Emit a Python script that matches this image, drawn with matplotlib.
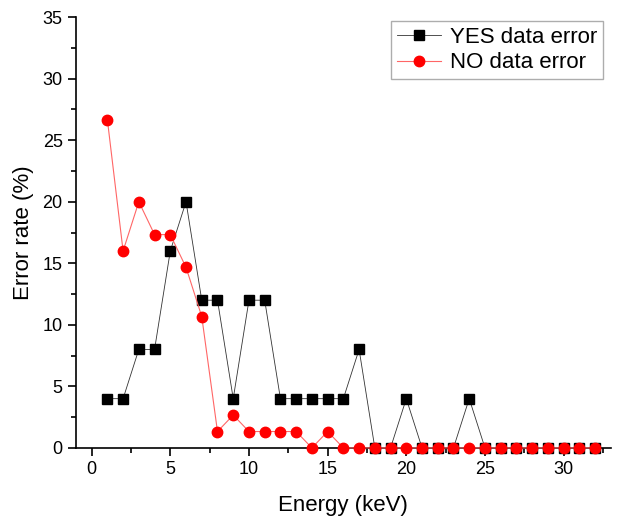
import numpy as np
import matplotlib
matplotlib.use("Agg")
import matplotlib.pyplot as plt
from matplotlib.ticker import MultipleLocator

plt.rcParams['font.family'] = ['Liberation Sans', 'DejaVu Sans']

energy = list(range(1, 33))
yes_error = [4, 4, 8, 8, 16, 20, 12, 12, 4, 12, 12, 4, 4, 4, 4, 4,
             8, 0, 0, 4, 0, 0, 0, 4, 0, 0, 0, 0, 0, 0, 0, 0]
no_error = [26.67, 16, 20, 17.33, 17.33, 14.67, 10.67, 1.33, 2.67, 1.33, 1.33,
            1.33, 1.33, 0, 1.33, 0, 0, 0, 0, 0, 0, 0, 0, 0, 0, 0, 0, 0, 0, 0, 0, 0]

fig = plt.figure(figsize=(6.17, 5.19), dpi=100)
ax = fig.add_axes([0.123, 0.137, 0.867, 0.830])

ax.plot(energy, yes_error, color='#333333', lw=0.6, marker='s', ms=7,
        mfc='black', mec='black', label='YES data error', clip_on=False, zorder=3)
ax.plot(energy, no_error, color='#ff6666', lw=0.8, marker='o', ms=7.5,
        mfc='red', mec='red', label='NO data error', clip_on=False, zorder=4)

ax.set_xlim(-1, 33)
ax.set_ylim(0, 35)
ax.xaxis.set_major_locator(MultipleLocator(5))
ax.xaxis.set_minor_locator(MultipleLocator(2.5))
ax.yaxis.set_major_locator(MultipleLocator(5))
ax.yaxis.set_minor_locator(MultipleLocator(2.5))

for side in ('top', 'right'):
    ax.spines[side].set_visible(False)
for side in ('left', 'bottom'):
    ax.spines[side].set_linewidth(1.2)

ax.tick_params(which='major', direction='out', length=6, width=1.2, labelsize=13)
ax.tick_params(which='minor', direction='out', length=3.5, width=1.2)

ax.set_xlabel('Energy (keV)', fontsize=16, labelpad=12)
ax.set_ylabel('Error rate (%)', fontsize=16, labelpad=6)

leg = ax.legend(loc='upper right', bbox_to_anchor=(0.985, 0.99), fontsize=16,
                frameon=True, fancybox=False, edgecolor='#999999',
                handlelength=2.0, handletextpad=0.4, borderpad=0.25,
                labelspacing=0.2, borderaxespad=0)
leg.get_frame().set_linewidth(1.0)

fig.savefig('out.png', dpi=100)
